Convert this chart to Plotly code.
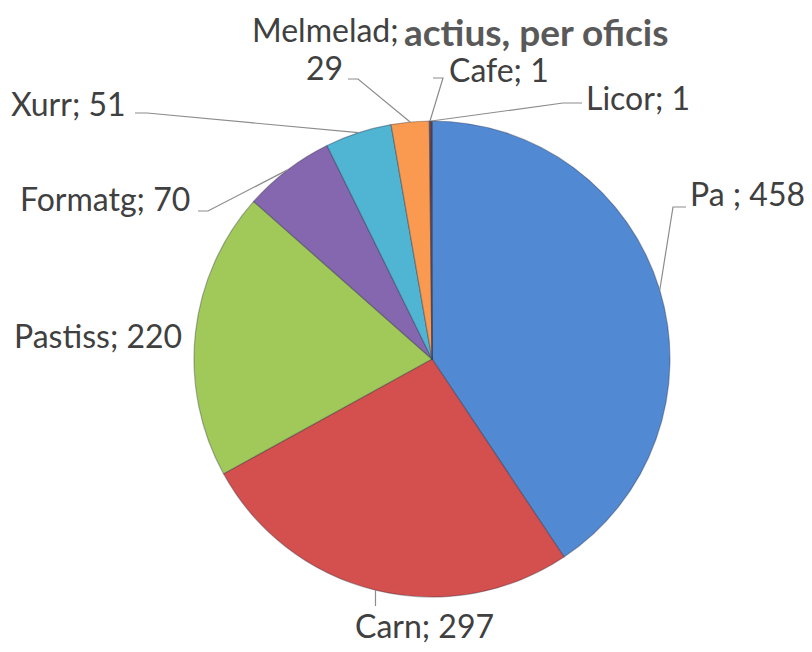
import math
import plotly.graph_objects as go

categories = ["Pa ", "Carn", "Pastiss", "Formatg", "Xurr", "Melmelada", "Cafe", "Licor"]
values = [458, 297, 220, 70, 51, 29, 1, 1]
colors = ["#5289D3", "#D4504E", "#A0C95A", "#8567B0", "#4FB5D3", "#F99A50", "#3C5F9A", "#8A3A36"]
label_texts = ["Pa ; 458", "Carn; 297", "Pastiss; 220", "Formatg; 70", "Xurr; 51",
               "Melmelad;<br>29", "Cafe; 1", "Licor; 1"]

OFF = 8                      # page body margin
W, H = 812 - 2 * OFF, 652 - 2 * OFF
CX, CY, R = 432, 359, 238   # pie centre / radius in window pixels


def px(x):
    return (x - OFF) / W


def py(y):
    return 1 - (y - OFF) / H


fig = go.Figure(go.Pie(
    labels=categories, values=values, sort=False, direction="clockwise", rotation=0,
    marker=dict(colors=colors, line=dict(color="rgba(40,40,60,0.35)", width=1.2)),
    textinfo="none", hoverinfo="label+value", showlegend=False,
    domain=dict(x=[px(CX - R), px(CX + R)], y=[py(CY + R), py(CY - R)]),
))

# mid-angles of slices (clockwise from 12 o'clock) from the data
total = sum(values)
mids = []
acc = 0
for v in values:
    mids.append((acc + v / 2) / total * 2 * math.pi)
    acc += v


def edge(i):
    a = mids[i]
    return CX + R * math.sin(a), CY - R * math.cos(a)


label_cfg = {
    0: dict(x=688, y=193, xa="left", elbow=[(686, 207), (673, 207)]),
    1: dict(x=424, y=625, xa="center", elbow=[(None, 606)]),
    2: dict(x=184, y=335, xa="right", elbow=None),
    3: dict(x=192, y=198, xa="right", elbow=[(198, 211), (208, 211)]),
    4: dict(x=128, y=104, xa="right", elbow=[(135, 113), (147, 113)]),
    6: dict(x=447, y=69, xa="left", elbow=[(433, 78), (443, 78)]),
    7: dict(x=584, y=97, xa="left", elbow=[(582, 103), (563, 103)]),
}

shapes = []
annotations = []
font = dict(family="Lato, 'Open Sans', sans-serif", size=32, color="#404040")
line_style = dict(color="#8C8C8C", width=1.2)

for i, cfg in label_cfg.items():
    annotations.append(dict(text=label_texts[i], x=px(cfg["x"]), y=py(cfg["y"]),
                            xref="paper", yref="paper", xanchor=cfg["xa"], yanchor="middle",
                            showarrow=False, font=font))
    if cfg["elbow"]:
        ex, ey = edge(i)
        pts = [(p[0] if p[0] is not None else ex, p[1]) for p in cfg["elbow"]] + [(ex, ey)]
        path = "M " + " L ".join(f"{px(a)},{py(b)}" for a, b in pts)
        shapes.append(dict(type="path", path=path, xref="paper", yref="paper", line=line_style))

# title (partly hidden behind the Melmelada label in the original)
annotations.append(dict(text="<b>actius, per oficis</b>", x=px(402), y=py(31), xref="paper",
                        yref="paper", xanchor="left", yanchor="middle", showarrow=False,
                        font=dict(family="Lato, 'Open Sans', sans-serif", size=37, color="#595959")))

# Melmelada label (two lines) and its leader
annotations.append(dict(text="Melmelad;", x=px(401), y=py(30), xref="paper", yref="paper",
                        xanchor="right", yanchor="middle", showarrow=False, font=font))
annotations.append(dict(text="29", x=px(345), y=py(68), xref="paper", yref="paper",
                        xanchor="right", yanchor="middle", showarrow=False, font=font))
ex, ey = edge(5)
pts = [(348, 79), (358, 79), (ex, ey)]
shapes.append(dict(type="path", path="M " + " L ".join(f"{px(a)},{py(b)}" for a, b in pts),
                   xref="paper", yref="paper", line=line_style))

fig.update_layout(width=W, height=H, margin=dict(l=0, r=0, t=0, b=0),
                  paper_bgcolor="white", plot_bgcolor="white",
                  shapes=shapes, annotations=annotations)

fig.write_html("out.html")
